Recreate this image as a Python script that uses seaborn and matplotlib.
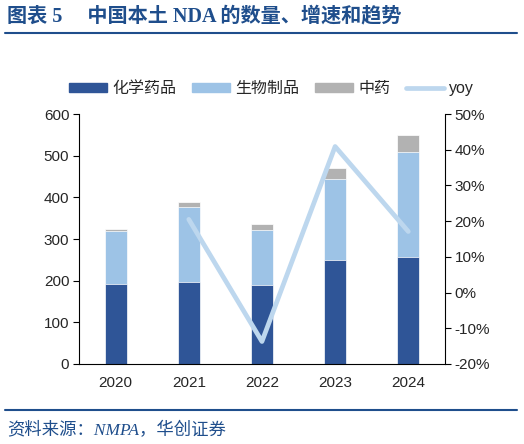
#!/usr/bin/env python

import matplotlib
matplotlib.use("Agg")
import matplotlib.pyplot as plt
import matplotlib.ticker as mticker
from matplotlib.patches import Patch
from matplotlib.lines import Line2D
import numpy as np
import pandas as pd
import seaborn as sns

## Data
years = ["2020", "2021", "2022", "2023", "2024"]
chem = [192, 197, 190, 250, 257]     # 化学药品
bio = [127, 179, 132, 195, 253]      # 生物制品
tcm = [5, 14, 14, 26, 40]            # 中药
yoy_years = ["2021", "2022", "2023", "2024"]
yoy = [0.205, -0.137, 0.409, 0.171]

series_names = ["化学药品", "生物制品", "中药", "yoy"]

c_chem = "#2F5597"
c_bio = "#9DC3E6"
c_tcm = "#B2B2B2"
c_yoy = "#BDD7EE"
c_title = "#1F4E8C"

sns.set_style("white")
plt.rcParams["font.family"] = ["Liberation Sans", "Noto Sans CJK SC", "DejaVu Sans"]
plt.rcParams["axes.unicode_minus"] = False

df = pd.DataFrame({"year": years, "chem": chem, "bio": bio, "tcm": tcm})
df["cum_bio"] = df["chem"] + df["bio"]
df["cum_tcm"] = df["cum_bio"] + df["tcm"]

fig = plt.figure(figsize=(5.24, 4.44), dpi=100)
ax = fig.add_axes([0.1508, 0.1802, 0.6982, 0.5630])

## Stacked bars: draw cumulative totals from back to front
bar_kw = dict(width=0.3, edgecolor="white", linewidth=0.5, saturation=1, ax=ax)
sns.barplot(data=df, x="year", y="cum_tcm", color=c_tcm, **bar_kw)
sns.barplot(data=df, x="year", y="cum_bio", color=c_bio, **bar_kw)
sns.barplot(data=df, x="year", y="chem", color=c_chem, **bar_kw)

ax.set_ylim(0, 600)
ax.set_xlim(-0.5, len(years) - 0.5)
ax.yaxis.set_major_locator(mticker.MultipleLocator(100))
ax.set_xlabel("")
ax.set_ylabel("")

## x ticks between categories, labels at centres
ax.set_xticks(np.arange(len(years) + 1) - 0.5)
ax.set_xticklabels([])
ax.set_xticks(np.arange(len(years)), minor=True)
ax.set_xticklabels(years, minor=True)
ax.tick_params(axis="x", which="major", direction="out", length=4, width=0.8, color="black")
ax.tick_params(axis="x", which="minor", length=0, pad=9, labelsize=11)
ax.tick_params(axis="y", direction="out", length=4, width=0.8, color="black", labelsize=11, pad=3)

for s in ["top", "right"]:
    ax.spines[s].set_visible(False)
for s in ["left", "bottom"]:
    ax.spines[s].set_color("black")
    ax.spines[s].set_linewidth(0.8)

## yoy line on secondary axis
ax2 = ax.twinx()
yoy_pos = [years.index(y) for y in yoy_years]
sns.lineplot(x=yoy_pos, y=yoy, color=c_yoy, linewidth=3.4, ax=ax2, solid_capstyle="round")
ax2.set_ylim(-0.2, 0.5)
ax2.yaxis.set_major_locator(mticker.MultipleLocator(0.1))
ax2.yaxis.set_major_formatter(mticker.FuncFormatter(lambda v, p: "%d%%" % round(v * 100)))
ax2.tick_params(axis="y", direction="out", length=4, width=0.8, color="black", labelsize=11, pad=3)
for s in ["top", "left", "bottom"]:
    ax2.spines[s].set_visible(False)
ax2.spines["right"].set_color("black")
ax2.spines["right"].set_linewidth(0.8)
ax2.set_ylabel("")

## Legend
handles = [Patch(color=c_chem), Patch(color=c_bio), Patch(color=c_tcm),
           Line2D([0], [0], color=c_yoy, linewidth=3.4)]
fig.legend(handles, series_names, loc="center", bbox_to_anchor=(0.518, 0.80), ncol=4,
           frameon=False, fontsize=11.5, handlelength=2.4, handleheight=0.5,
           columnspacing=1.0, handletextpad=0.3)

## Title, rules and source note
fig.text(0.013, 0.963, "图表 5     中国本土 NDA 的数量、增速和趋势", fontsize=14.5, fontweight="bold",
         color=c_title, family=["Liberation Serif", "Noto Sans CJK SC"], va="center", ha="left")
fig.add_artist(Line2D([0.0095, 0.9866], [0.9257, 0.9257], color=c_title, linewidth=1.5))
fig.add_artist(Line2D([0.0095, 0.9866], [0.0766, 0.0766], color=c_title, linewidth=1.5))
fig.text(0.013, 0.031, "资料来源：NMPA，华创证券", fontsize=12.5, style="italic",
         color=c_title, family=["Liberation Serif", "Noto Sans CJK SC"], va="center", ha="left")

fig.savefig("out.png", dpi=100)
